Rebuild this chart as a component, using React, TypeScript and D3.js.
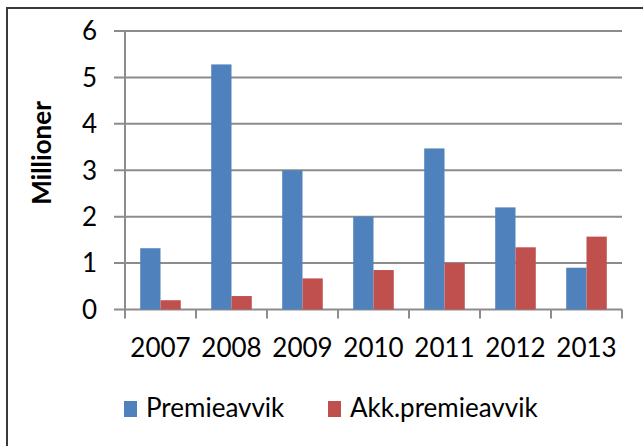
import React from 'react';
import * as d3 from 'd3';

const years = ['2007', '2008', '2009', '2010', '2011', '2012', '2013'];
const premieavvik = [1.32, 5.28, 3.0, 2.0, 3.47, 2.2, 0.9];
const akkPremieavvik = [0.2, 0.29, 0.67, 0.85, 1.0, 1.34, 1.57];
const seriesNames = ['Premieavvik', 'Akk.premieavvik'];
const seriesColors = ['#4F81BD', '#C0504D'];
const yTicks = [0, 1, 2, 3, 4, 5, 6];
const yTitle = 'Millioner';

const W = 643;
const H = 446;
const plot = { left: 125, right: 622, top: 31, bottom: 309.5 };
const font = 'Lato, "Open Sans", sans-serif';
const fs = 26;

const App = () => {
  const x = d3.scaleBand().domain(years).range([plot.left, plot.right]).padding(0);
  const inner = d3.scaleBand().domain(seriesNames).range([0, x.bandwidth()])
    .paddingInner(0).paddingOuter(0.75);
  const y = d3.scaleLinear().domain([0, 6]).range([plot.bottom, plot.top]);
  const series = [premieavvik, akkPremieavvik];
  const grid = '#8C8C8C';

  return (
    <svg width={W} height={H} style={{ position: 'absolute', left: 0, top: 0, background: '#fff' }}>
      <rect x={7} y={8} width={720} height={520} fill="#fff" stroke="#3a3a3a" strokeWidth={2} />

      {/* gridlines + y tick labels */}
      {yTicks.map(t => (
        <g key={t}>
          <line x1={114} x2={plot.right} y1={y(t)} y2={y(t)} stroke={grid} strokeWidth={2} />
          <text x={97} y={y(t)} dy="0.36em" textAnchor="end" fontFamily={font} fontSize={fs} fill="#000">{t}</text>
        </g>
      ))}

      {/* y axis */}
      <line x1={plot.left} x2={plot.left} y1={plot.top} y2={plot.bottom + 9} stroke={grid} strokeWidth={2} />

      {/* x ticks */}
      {years.map(yr => (
        <line key={yr} x1={x(yr) + x.bandwidth()} x2={x(yr) + x.bandwidth()} y1={plot.bottom} y2={plot.bottom + 9}
          stroke={grid} strokeWidth={2} />
      ))}

      {/* bars */}
      {series.map((vals, s) => (
        <g key={s} fill={seriesColors[s]}>
          {vals.map((v, i) => (
            <rect key={i} x={x(years[i]) + inner(seriesNames[s])} y={y(v)} width={inner.bandwidth()}
              height={y(0) - y(v)} />
          ))}
        </g>
      ))}

      {/* x labels */}
      {years.map(yr => (
        <text key={yr} x={x(yr) + x.bandwidth() / 2} y={357} textAnchor="middle" fontFamily={font} fontSize={fs} fill="#000">{yr}</text>
      ))}

      {/* y title */}
      <text transform="translate(51,153) rotate(-90)" textAnchor="middle" fontFamily={font} fontWeight="bold"
        fontSize={fs} fill="#000">{yTitle}</text>

      {/* legend */}
      <rect x={124} y={401} width={13} height={16} fill={seriesColors[0]} />
      <text x={146} y={417} fontFamily={font} fontSize={fs} fill="#000">{seriesNames[0]}</text>
      <rect x={328} y={401} width={13} height={16} fill={seriesColors[1]} />
      <text x={350} y={417} fontFamily={font} fontSize={fs} fill="#000">{seriesNames[1]}</text>
    </svg>
  );
};

export default App;
